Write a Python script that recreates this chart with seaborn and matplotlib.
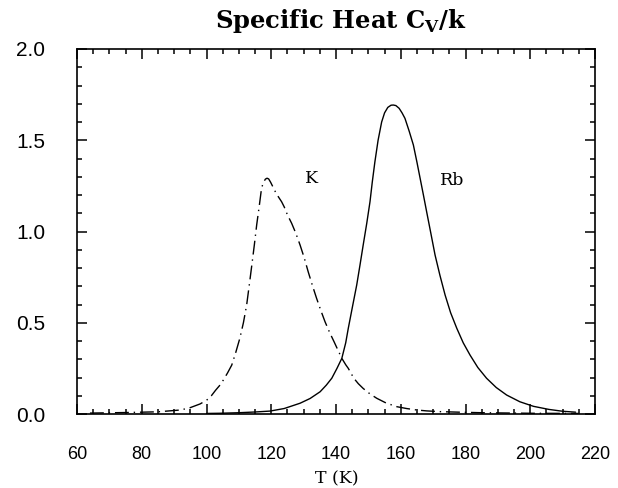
import numpy as np
import pandas as pd
import matplotlib
matplotlib.use("Agg")
import matplotlib.pyplot as plt
import seaborn as sns
from matplotlib.ticker import MultipleLocator, FormatStrFormatter

# ---- data ----
k_T = [64, 75, 85, 92, 95, 98, 100, 101.5, 102.8, 104, 105.2, 106.5, 107.8, 109,
       110.3, 111.4, 112.4, 113.2, 114.0, 114.8, 115.5, 116.3, 117.0, 117.6, 118.2,
       118.7, 119.2, 119.8, 120.5, 121.2, 122.2, 123.2, 124.0, 124.8, 125.6, 126.3,
       127.6, 128.9, 130.2, 131.4, 132.7, 134.0, 135.3, 136.6, 138.0, 139.4, 140.6,
       141.8, 143.0, 143.8, 145.5, 146.9, 148.4, 150.5, 152.6, 155.5, 158.8, 161.8,
       164.9, 168, 172, 178, 185, 200, 215]
k_C = [0.005, 0.008, 0.012, 0.022, 0.035, 0.055, 0.075, 0.10, 0.13, 0.155, 0.186,
       0.225, 0.268, 0.335, 0.415, 0.50, 0.597, 0.705, 0.816, 0.93, 1.036, 1.14,
       1.237, 1.27, 1.287, 1.292, 1.288, 1.27, 1.245, 1.22, 1.19, 1.163, 1.135, 1.10,
       1.07, 1.045, 0.99, 0.926, 0.855, 0.78, 0.705, 0.634, 0.568, 0.506, 0.448,
       0.396, 0.35, 0.305, 0.27, 0.25, 0.196, 0.166, 0.14, 0.11, 0.086, 0.06, 0.04,
       0.03, 0.022, 0.017, 0.013, 0.01, 0.007, 0.004, 0.003]

rb_T = [100, 104, 110, 115, 119.6, 124, 128.9, 132, 135.1, 137, 138.7, 140.3, 141.8,
        143, 143.8, 145, 146.4, 147.4, 148.4, 149.5, 150.5, 151.2, 152.0, 153, 154.1,
        155, 156, 157, 157.7, 158.5, 159.5, 160.4, 161.3, 162.6, 163.9, 165, 166.0,
        167, 168.0, 169.3, 170.6, 172.1, 173.7, 175.4, 177.3, 179.3, 181.4, 183.8,
        186.5, 189.5, 192.7, 196.8, 201, 205.8, 210, 214]
rb_C = [0.003, 0.004, 0.007, 0.011, 0.016, 0.03, 0.059, 0.085, 0.122, 0.158, 0.196,
        0.25, 0.305, 0.39, 0.47, 0.58, 0.707, 0.815, 0.926, 1.045, 1.163, 1.27, 1.38,
        1.50, 1.60, 1.65, 1.68, 1.692, 1.693, 1.69, 1.675, 1.65, 1.62, 1.55, 1.474,
        1.38, 1.29, 1.20, 1.108, 0.99, 0.871, 0.76, 0.652, 0.555, 0.47, 0.39, 0.323,
        0.255, 0.196, 0.145, 0.104, 0.067, 0.042, 0.025, 0.015, 0.01]

curve_names = ["K", "Rb"]
label_pos = {"K": (132.6, 1.29), "Rb": (176.0, 1.28)}

title_text = r"Specific Heat C$_\mathbf{V}$/k"
x_label = "T (K)"

# ---- styling ----
sns.set_theme(style="ticks")
plt.rcParams['font.family'] = ['Liberation Sans', 'DejaVu Sans']
plt.rcParams['mathtext.fontset'] = 'custom'
plt.rcParams['mathtext.rm'] = 'DejaVu Serif:bold'
plt.rcParams['mathtext.bf'] = 'DejaVu Serif:bold'
plt.rcParams['text.color'] = 'black'

df = pd.concat([
    pd.DataFrame({"T": k_T, "C": k_C, "metal": "K"}),
    pd.DataFrame({"T": rb_T, "C": rb_C, "metal": "Rb"}),
], ignore_index=True)

fig = plt.figure(figsize=(6.18, 4.88), dpi=100)
ax = fig.add_axes([77 / 618, (488 - 414) / 488, (595 - 77) / 618, (414 - 49) / 488])

sns.lineplot(data=df[df.metal == "Rb"], x="T", y="C", ax=ax, color="black",
             lw=1.0, sort=False, estimator=None, legend=False)
sns.lineplot(data=df[df.metal == "K"], x="T", y="C", ax=ax, color="black",
             lw=1.0, sort=False, estimator=None, legend=False,
             linestyle=(0, (10, 3.5, 1, 3.5)))

ax.set_xlim(60, 220)
ax.set_ylim(0, 2.0)
ax.xaxis.set_major_locator(MultipleLocator(20))
ax.xaxis.set_minor_locator(MultipleLocator(5))
ax.yaxis.set_major_locator(MultipleLocator(0.5))
ax.yaxis.set_minor_locator(MultipleLocator(0.1))
ax.yaxis.set_major_formatter(FormatStrFormatter("%.1f"))

ax.tick_params(which="both", direction="in", top=True, right=True, width=1.1,
               color="black", labelcolor="black")
ax.tick_params(which="major", length=7.5)
ax.tick_params(which="minor", length=3.8)
ax.tick_params(axis="x", which="major", pad=23, labelsize=13)
ax.tick_params(axis="y", which="major", pad=23, labelsize=15)

for sp in ax.spines.values():
    sp.set_linewidth(1.2)
    sp.set_color("black")
    sp.set_visible(True)

ax.set_xlabel("")
ax.set_ylabel("")
fig.text(337 / 618, 1 - 483 / 488, x_label, family="DejaVu Serif", fontsize=12.5,
         ha="center", va="baseline")

for name in curve_names:
    x, y = label_pos[name]
    ax.text(x, y, name, family="DejaVu Serif", fontsize=12.5, ha="center",
            va="center", color="black")

fig.text(341 / 618, 1 - 28 / 488, title_text, family="DejaVu Serif",
         fontweight="bold", fontsize=17.5, ha="center", va="baseline")

fig.savefig("out.png", dpi=100, facecolor="white")
